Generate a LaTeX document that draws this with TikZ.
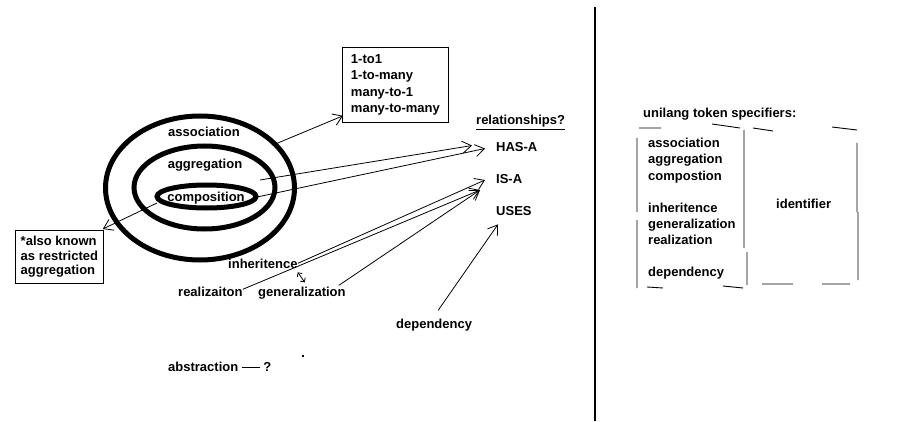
\documentclass[tikz,border=0pt]{standalone}
\usepackage{fontspec}
\setmainfont{Liberation Sans}
\usetikzlibrary{positioning, arrows.meta, calc, shapes.geometric}

\begin{document}
\begin{tikzpicture}[x=1pt, y=-1pt,
    ring/.style={draw, ellipse, line width=5pt, inner sep=0pt},
    txt/.style={font=\bfseries\fontsize{13}{16}\selectfont, inner sep=0pt, anchor=base west},
    note/.style={draw, line width=0.8pt, align=left, anchor=north west, inner ysep=0pt},
    link/.style={-{Straight Barb[length=9pt,width=12pt]}, line width=0.8pt},
    frame/.style={line width=0.9pt}
]
    \useasboundingbox (0,0) rectangle (901,422);

    % Nested rings
    \node[ring, minimum width=189pt, minimum height=144pt] (assoc) at (200,188) {};
    \node[ring, minimum width=141pt, minimum height=83pt] (aggr) at (204.5,187.5) {};
    \node[ring, minimum width=99pt, minimum height=23pt] (comp) at (206.5,196.5) {};
    \node[txt, anchor=base] (assocLbl) at (204,137) {association};
    \node[txt, anchor=base] (aggrLbl) at (205,168) {aggregation};
    \node[txt, anchor=base] (compLbl) at (206,201) {composition};

    % Notes
    \node[note, font=\bfseries\fontsize{13}{16.3}\selectfont, minimum width=106pt, minimum height=75pt, inner xsep=6pt] (cards) at (342,47)
        {1-to1\\1-to-many\\many-to-1\\many-to-many};
    \node[note, font=\bfseries\fontsize{13}{14.5}\selectfont, minimum width=88pt, minimum height=53pt, inner xsep=5pt] (known) at (15,230)
        {*also known\\as restricted\\aggregation};

    % Relationships
    \node[txt] (rel) at (476,125) {\underline{relationships?}};
    \node[txt] (hasa) at (496,152) {HAS-A};
    \node[txt] (isa) at (496,183) {IS-A};
    \node[txt] (uses) at (496,215) {USES};

    % Kinds of links
    \node[txt] (inh) at (228,268) {inheritence};
    \node[txt] (real) at (178,296) {realizaiton};
    \node[txt] (gen) at (258,296) {generalization};
    \node[txt] (dep) at (396,328) {dependency};
    \node[txt] (abstr) at (168,371) {abstraction \rule[3.5pt]{18pt}{1pt} ?};
    \fill (301.5,354.5) rectangle (303.5,356.5);

    % Arrows
    \coordinate (assocPt) at (273,145);
    \coordinate (aggrPt) at (260,180);
    \coordinate (compPt) at (257,197);
    \coordinate (compLeft) at (157,203);
    \draw[link] (assocPt) -- ([xshift=1pt, yshift=7pt]cards.south west);
    \draw[link] (aggrPt) -- ([xshift=-24pt, yshift=2pt]hasa.west);
    \draw[link] (compPt) -- ([xshift=-11pt, yshift=-1pt]hasa.west);
    \draw[link] (compLeft) -- ([xshift=-1pt, yshift=1pt]known.north east);
    \draw[link] (inh.east) -- ([xshift=-11pt, yshift=-1.5pt]isa.west);
    \draw[link] ([yshift=2pt]real.east) -- ([xshift=-16pt, yshift=-11.5pt]isa.west);
    \draw[link] ([xshift=-7pt, yshift=1pt]gen.north east) -- ([xshift=-16pt, yshift=-11.5pt]isa.west);
    \draw[link] ([xshift=4pt, yshift=8pt]dep.north) -- ([xshift=2pt, yshift=-9pt]uses.south west);
    \draw[{Straight Barb[length=3pt,width=6pt]}-{Straight Barb[length=3pt,width=6pt]}, line width=0.8pt]
        ([yshift=-4pt]inh.south east) -- ([xshift=7pt, yshift=-14pt]inh.south east);

    % Divider
    \draw[line width=1.5pt] (595,7) -- (595,421);

    % Token specifiers
    \node[txt] (spec) at (643,118) {unilang token specifiers:};
    \foreach \i/\t/\y in {1/association/148, 2/aggregation/164, 3/compostion/180,
                          4/inheritence/212, 5/generalization/228, 6/realization/244,
                          7/dependency/276} {
        \node[txt] (tok\i) at (648,\y) {\t};
    }
    \node[txt] (ident) at (776,208) {identifier};

    % Broken frame
    \draw[frame] (639,128) -- (661,128)  (712,124) -- (740,128)
        (753,128) -- (773,131)  (832,127) -- (857,130)
        (637,138) -- (637,212)  (637,220) -- (637,288)
        (744,130) -- (744,248)  (747,252) -- (747,285)
        (857,143) -- (857,212)  (858,212) -- (858,280)
        (647,287) -- (663,288)  (723,286) -- (743,288)
        (762,284) -- (793,284)  (822,284) -- (850,284);

\end{tikzpicture}
\end{document}
